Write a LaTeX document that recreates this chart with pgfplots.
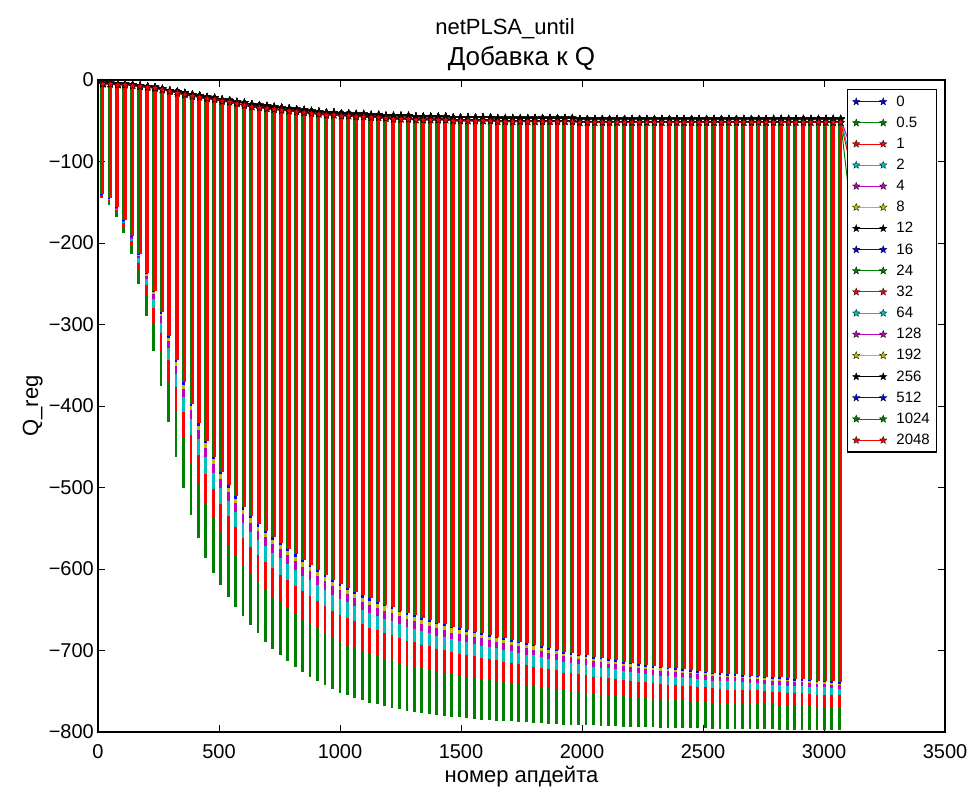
\documentclass[border=0pt]{standalone}
\usepackage{fontspec}
\setmainfont{Liberation Sans}
\usepackage{pgfplots}
\usepackage{pgfplotstable}
\pgfplotsset{compat=1.18}

\definecolor{mb}{rgb}{0,0,1}
\definecolor{mg}{rgb}{0,0.5,0}
\definecolor{mr}{rgb}{1,0,0}
\definecolor{mc}{rgb}{0,0.75,0.75}
\definecolor{mm}{rgb}{0.75,0,0.75}
\definecolor{my}{rgb}{0.75,0.75,0}
\definecolor{mk}{rgb}{0,0,0}

% filled five-pointed star, like matplotlib's '*'
\pgfdeclareplotmark{fstar}{%
  \pgfpathmoveto{\pgfpointpolar{90}{\pgfplotmarksize}}%
  \pgfpathlineto{\pgfpointpolar{126}{0.42*\pgfplotmarksize}}%
  \pgfpathlineto{\pgfpointpolar{162}{\pgfplotmarksize}}%
  \pgfpathlineto{\pgfpointpolar{198}{0.42*\pgfplotmarksize}}%
  \pgfpathlineto{\pgfpointpolar{234}{\pgfplotmarksize}}%
  \pgfpathlineto{\pgfpointpolar{270}{0.42*\pgfplotmarksize}}%
  \pgfpathlineto{\pgfpointpolar{306}{\pgfplotmarksize}}%
  \pgfpathlineto{\pgfpointpolar{342}{0.42*\pgfplotmarksize}}%
  \pgfpathlineto{\pgfpointpolar{18}{\pgfplotmarksize}}%
  \pgfpathlineto{\pgfpointpolar{54}{0.42*\pgfplotmarksize}}%
  \pgfpathclose
  \pgfusepathqfillstroke
}

% one row per pass: top value (T, Tr for the last series) and the bottom of each dip
\pgfplotstableread{
x T Tr U Bl Y M C R G
20 -4 -5 -140 -141 -140 -141 -141 -143 -145
51 -4 -5 -145 -146 -145 -146 -147 -149 -153
82 -5 -6 -156 -157 -157 -158 -159 -162 -168
112 -5 -6 -172 -173 -173 -174 -176 -180 -188
143 -6 -7 -192 -193 -193 -195 -198 -204 -214
174 -7 -8 -214 -215 -216 -219 -224 -233 -250
205 -8 -9 -237 -238 -240 -244 -252 -265 -290
236 -9 -10 -259 -260 -263 -269 -280 -298 -333
266 -11 -12 -285 -287 -290 -298 -310 -333 -376
297 -13 -14 -314 -316 -320 -329 -344 -370 -420
328 -14 -16 -344 -346 -351 -361 -377 -407 -462
359 -16 -18 -371 -374 -379 -389 -407 -439 -500
390 -18 -20 -397 -400 -405 -416 -435 -470 -534
420 -19 -21 -421 -424 -429 -441 -460 -496 -562
451 -21 -23 -443 -446 -452 -463 -483 -519 -586
482 -22 -24 -462 -465 -471 -482 -502 -538 -605
513 -24 -26 -481 -484 -489 -500 -520 -555 -620
544 -25 -27 -497 -500 -505 -516 -535 -570 -634
574 -27 -29 -511 -514 -519 -530 -549 -583 -647
605 -28 -31 -524 -527 -532 -543 -562 -595 -658
636 -30 -33 -535 -538 -543 -554 -573 -606 -669
667 -31 -34 -545 -548 -553 -564 -583 -616 -679
698 -32 -35 -553 -556 -561 -572 -591 -625 -689
728 -33 -36 -561 -564 -569 -580 -599 -634 -698
759 -34 -37 -568 -571 -576 -587 -607 -641 -706
790 -35 -38 -575 -578 -583 -594 -614 -648 -713
821 -36 -39 -582 -585 -590 -601 -621 -655 -720
852 -37 -40 -589 -592 -597 -608 -627 -662 -726
882 -38 -41 -595 -598 -603 -614 -633 -668 -732
913 -39 -42 -601 -604 -609 -620 -639 -673 -737
944 -40 -43 -607 -610 -615 -626 -645 -679 -742
975 -40 -43 -613 -616 -621 -632 -651 -684 -747
1006 -41 -44 -618 -621 -626 -637 -656 -689 -752
1036 -41 -44 -623 -626 -631 -641 -660 -693 -755
1067 -42 -45 -628 -631 -636 -646 -664 -697 -758
1098 -42 -45 -632 -635 -640 -650 -668 -700 -761
1129 -43 -46 -636 -639 -644 -654 -672 -704 -764
1160 -43 -46 -640 -643 -648 -658 -675 -707 -766
1190 -44 -47 -644 -646 -651 -661 -679 -710 -768
1221 -44 -48 -647 -649 -654 -664 -681 -712 -770
1252 -44 -48 -651 -653 -658 -668 -685 -715 -772
1283 -44 -48 -654 -656 -661 -671 -688 -718 -774
1314 -45 -49 -657 -659 -664 -674 -690 -720 -775
1344 -45 -49 -660 -662 -667 -676 -693 -722 -777
1375 -45 -49 -663 -665 -670 -679 -695 -724 -778
1406 -45 -49 -666 -668 -673 -682 -698 -726 -779
1437 -45 -49 -668 -670 -675 -684 -699 -727 -780
1468 -46 -50 -671 -673 -678 -686 -702 -729 -781
1498 -46 -50 -673 -675 -680 -688 -704 -731 -782
1529 -46 -50 -675 -677 -681 -690 -705 -732 -783
1560 -46 -50 -677 -679 -683 -692 -707 -734 -784
1591 -46 -50 -679 -681 -685 -694 -709 -735 -785
1622 -46 -50 -681 -683 -687 -696 -710 -736 -785
1652 -47 -51 -683 -685 -689 -697 -712 -738 -786
1683 -47 -51 -685 -687 -691 -699 -714 -739 -787
1714 -47 -51 -687 -689 -693 -701 -715 -740 -787
1745 -47 -51 -689 -691 -695 -703 -717 -741 -788
1776 -47 -51 -691 -693 -697 -705 -718 -742 -788
1806 -47 -51 -693 -695 -699 -706 -720 -744 -789
1837 -47 -51 -695 -697 -701 -708 -721 -745 -789
1868 -47 -51 -697 -699 -703 -710 -723 -746 -790
1899 -47 -51 -699 -701 -704 -712 -724 -747 -790
1930 -47 -51 -702 -704 -707 -714 -727 -749 -791
1960 -47 -51 -703 -705 -708 -715 -728 -750 -791
1991 -48 -52 -705 -707 -710 -717 -729 -751 -792
2022 -48 -52 -706 -708 -711 -718 -730 -752 -792
2053 -48 -52 -708 -710 -713 -720 -732 -753 -792
2084 -48 -52 -709 -711 -714 -721 -733 -754 -793
2114 -48 -52 -711 -713 -716 -722 -734 -754 -793
2145 -48 -52 -712 -714 -717 -723 -735 -755 -793
2176 -48 -52 -714 -716 -719 -725 -736 -756 -794
2207 -48 -52 -715 -717 -720 -726 -737 -757 -794
2238 -48 -52 -717 -719 -722 -728 -739 -758 -794
2268 -48 -52 -718 -720 -723 -729 -739 -758 -794
2299 -48 -52 -719 -721 -724 -730 -740 -759 -794
2330 -48 -52 -720 -722 -725 -731 -741 -760 -795
2361 -48 -52 -721 -723 -725 -731 -742 -760 -795
2392 -48 -52 -722 -724 -726 -732 -742 -761 -795
2422 -48 -52 -723 -725 -727 -733 -743 -761 -795
2453 -48 -52 -724 -726 -728 -734 -744 -762 -795
2484 -48 -52 -725 -727 -729 -735 -745 -762 -795
2515 -48 -52 -726 -728 -730 -736 -745 -763 -795
2546 -48 -52 -727 -729 -731 -737 -746 -764 -796
2576 -48 -52 -728 -730 -732 -738 -747 -764 -796
2607 -48 -52 -729 -731 -733 -738 -748 -765 -796
2638 -48 -52 -729 -731 -733 -738 -748 -765 -796
2669 -48 -52 -730 -732 -734 -739 -748 -765 -796
2700 -48 -52 -731 -733 -735 -740 -749 -765 -796
2730 -48 -52 -731 -733 -735 -740 -749 -765 -796
2761 -48 -52 -732 -734 -736 -741 -750 -766 -796
2792 -48 -52 -733 -735 -737 -742 -751 -766 -796
2823 -48 -52 -733 -735 -737 -742 -751 -767 -797
2854 -48 -52 -734 -736 -738 -743 -752 -767 -797
2884 -48 -52 -735 -737 -739 -744 -752 -768 -797
2915 -48 -52 -735 -737 -739 -744 -752 -768 -797
2946 -48 -52 -736 -738 -740 -745 -753 -768 -797
2977 -48 -52 -737 -739 -741 -745 -754 -769 -797
3008 -48 -52 -737 -739 -741 -745 -754 -769 -797
3038 -48 -52 -738 -740 -742 -746 -755 -769 -797
3069 -48 -52 -739 -741 -742 -747 -755 -770 -797
}\passes

\pgfplotsset{
  ser/.style={color=#1, line width=1pt, mark=fstar, mark size=3.9pt,
    mark options={solid, fill=#1, draw=black, line width=0.3pt}},
  dip/.style={/pgfplots/error bars/y dir=minus, /pgfplots/error bars/y explicit,
    /pgfplots/error bars/error mark=none,
    /pgfplots/error bars/error bar style={line width=2.8pt, xshift=#1}},
}

% #1 colour, #2 top column, #3 bottom column, #4 legend text, #5 dip shift
\newcommand{\series}[5]{%
  \addplot[ser=#1, dip=#5] table[x=x, y=#2,
    y error minus expr={\thisrow{#2}-(\thisrow{#3})}] {\passes};
  \addlegendentry{#4}}

\begin{document}
\begin{tikzpicture}
\path[use as bounding box] (-98pt,-60pt) rectangle (873pt,732pt);
\begin{axis}[
  name=ax, at={(0,0)}, anchor=south west,
  scale only axis, width=847pt, height=652pt,
  xmin=0, xmax=3500, ymin=-800, ymax=0,
  xtick={0,500,...,3500},
  xticklabels={0,500,1000,1500,2000,2500,3000,3500},
  ytick={-800,-700,...,0},
  yticklabels={−800,−700,−600,−500,−400,−300,−200,−100,0},
  tick align=inside, tick pos=both, major tick length=7pt,
  every tick/.style={black, line width=0.9pt},
  axis line style={black, line width=1.2pt},
  tick label style={font=\fontsize{20}{24}\selectfont},
  xticklabel style={anchor=base, inner sep=0pt, yshift=-26pt},
  yticklabel style={anchor=east, inner sep=0pt, xshift=-4pt},
  xlabel={номер апдейта}, ylabel={Q\_reg},
  label style={font=\fontsize{22}{26}\selectfont},
  xlabel style={at={(axis description cs:0.5,-0.0767)}, anchor=base},
  ylabel style={at={(axis description cs:-0.0708,0.5)}, anchor=base},
  title={Добавка к Q},
  title style={font=\fontsize{26}{30}\selectfont, at={(axis description cs:0.5,1.0138)}, anchor=base},
  legend cell align=left,
  legend image code/.code={\draw[mark repeat=1, mark phase=1, #1] plot coordinates {(0pt,0pt) (27pt,0pt)};},
  legend style={at={(axis description cs:0.9906,0.9862)}, anchor=north east,
    draw=black, line width=1.5pt, fill=white,
    font=\fontsize{15}{17}\selectfont,
    inner xsep=5pt, inner ysep=4pt, row sep=5.2pt,
    nodes={inner xsep=1.5pt},
    /tikz/every odd column/.append style={column sep=8pt}},
]
% tail of the last, unfinished pass
\addplot[mc, line width=1pt, forget plot] coordinates {(3069,-48) (3108,-95)};
\addplot[mm, line width=1pt, forget plot] coordinates {(3069,-48) (3108,-80)};
\addplot[mg, line width=1pt, forget plot] coordinates {(3069,-52) (3108,-151)};
\addplot[mr, line width=1pt, forget plot] coordinates {(3069,-52) (3108,-102)};

\series{mb}{T}{G}{0}{-1.4pt}
\series{mg}{T}{G}{0.5}{-1.4pt}
\series{mr}{T}{G}{1}{-1.4pt}
\series{mc}{T}{G}{2}{-1.4pt}
\series{mm}{T}{G}{4}{-1.4pt}
\series{my}{T}{G}{8}{-1.4pt}
\series{mk}{T}{G}{12}{-1.4pt}
\series{mb}{T}{G}{16}{-1.4pt}
\series{mg}{T}{G}{24}{-1.4pt}
\series{mr}{T}{R}{32}{-1.4pt}
\series{mc}{T}{C}{64}{-1.4pt}
\series{mm}{T}{M}{128}{-1.4pt}
\series{my}{T}{Y}{192}{-1.4pt}
\series{mk}{T}{Bl}{256}{-1.4pt}
\series{mb}{Tr}{Bl}{512}{-1.4pt}
\series{mg}{Tr}{U}{1024}{-1.4pt}
\series{mr}{Tr}{U}{2048}{0pt}
\end{axis}
\node[font=\fontsize{22}{26}\selectfont, anchor=base] at ([shift={(-16.5pt,46pt)}]ax.north) {netPLSA\_until};
\end{tikzpicture}
\end{document}
